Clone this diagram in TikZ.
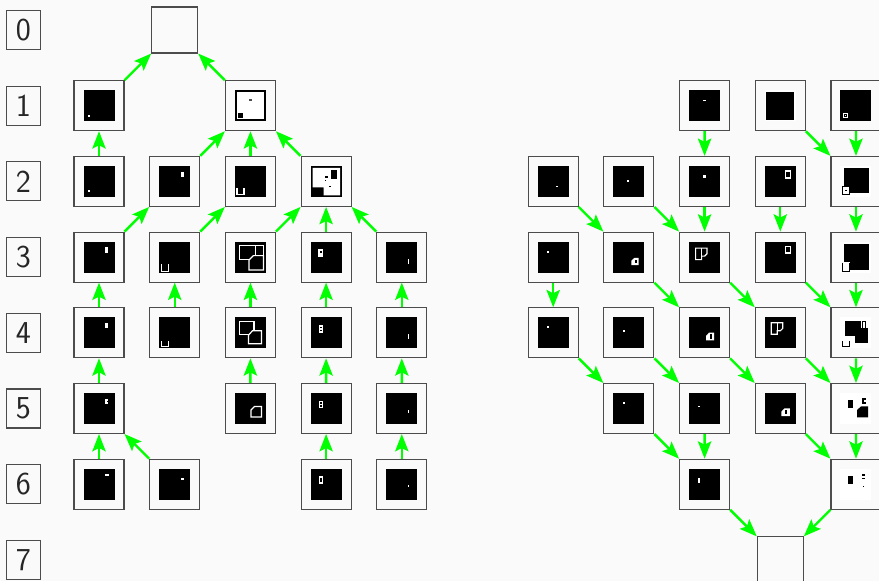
\documentclass[tikz,border=0pt]{standalone}
\usepackage{xcolor}
\usepackage{tikz}
\usetikzlibrary{arrows.meta, positioning}
\definecolor{paper}{HTML}{FAFAFA}
\tikzset{
    base/.style={draw=black!70, line width=0.8pt, inner sep=0pt},
    cell/.style={base, rectangle, fill=paper, minimum size=1.321cm},
    hollow/.style={base, rectangle, fill=paper, minimum size=1.215cm},
    tag/.style={base, rectangle, fill=paper, minimum width=0.898cm, minimum height=1.03cm, font=\sffamily\fontsize{24}{28}\selectfont, text=black!85},
    link/.style={draw=green, line width=1.8pt, -{Stealth[length=13pt, width=10pt, inset=2.5pt]}},
    wire/.style={draw=white, line width=0.9pt},
    ink/.style={draw=black, line width=0.75pt}
}
\newcommand{\cellart}[3]{%
  \begin{scope}[shift={(#1.center)}, x=0.02642cm, y=-0.02642cm, shift={(-15.5,-15.5)}]
    \fill [#2] (0,0) rectangle (31,31);
    #3
  \end{scope}}

\begin{document}
\begin{tikzpicture}[node distance=2cm and 2cm, on grid]
    \useasboundingbox [fill=paper] (-2.616,-14.557) rectangle (20.608,0.793);

    % row numbers
    \node [hollow] (Top) at (2,0) {};
    \node [tag, left=4cm of Top] (Row0) {0};
    \node [tag, below=of Row0] (Row1) {1};
    \node [tag, below=of Row1] (Row2) {2};
    \node [tag, below=of Row2] (Row3) {3};
    \node [tag, below=of Row3] (Row4) {4};
    \node [tag, below=of Row4] (Row5) {5};
    \node [tag, below=of Row5] (Row6) {6};
    \node [tag, below=of Row6] (Row7) {7};

    % row 1
    \node [cell, below left=of Top] (r1c0) {};
    \node [cell, below right=of Top] (r1c2) {};
    \node [cell, right=12cm of r1c2] (r1c8) {};
    \node [cell, right=of r1c8] (r1c9) {};
    \node [cell, right=of r1c9] (r1c10) {};
    % row 2
    \node [cell, below=of r1c0] (r2c0) {};
    \node [cell, right=of r2c0] (r2c1) {};
    \node [cell, right=of r2c1] (r2c2) {};
    \node [cell, right=of r2c2] (r2c3) {};
    \node [cell, right=6cm of r2c3] (r2c6) {};
    \node [cell, right=of r2c6] (r2c7) {};
    \node [cell, right=of r2c7] (r2c8) {};
    \node [cell, right=of r2c8] (r2c9) {};
    \node [cell, right=of r2c9] (r2c10) {};
    % row 3
    \node [cell, below=of r2c0] (r3c0) {};
    \node [cell, right=of r3c0] (r3c1) {};
    \node [cell, right=of r3c1] (r3c2) {};
    \node [cell, right=of r3c2] (r3c3) {};
    \node [cell, right=of r3c3] (r3c4) {};
    \node [cell, right=4cm of r3c4] (r3c6) {};
    \node [cell, right=of r3c6] (r3c7) {};
    \node [cell, right=of r3c7] (r3c8) {};
    \node [cell, right=of r3c8] (r3c9) {};
    \node [cell, right=of r3c9] (r3c10) {};
    % row 4
    \node [cell, below=of r3c0] (r4c0) {};
    \node [cell, right=of r4c0] (r4c1) {};
    \node [cell, right=of r4c1] (r4c2) {};
    \node [cell, right=of r4c2] (r4c3) {};
    \node [cell, right=of r4c3] (r4c4) {};
    \node [cell, right=4cm of r4c4] (r4c6) {};
    \node [cell, right=of r4c6] (r4c7) {};
    \node [cell, right=of r4c7] (r4c8) {};
    \node [cell, right=of r4c8] (r4c9) {};
    \node [cell, right=of r4c9] (r4c10) {};
    % row 5
    \node [cell, below=of r4c0] (r5c0) {};
    \node [cell, right=4cm of r5c0] (r5c2) {};
    \node [cell, right=of r5c2] (r5c3) {};
    \node [cell, right=of r5c3] (r5c4) {};
    \node [cell, right=6cm of r5c4] (r5c7) {};
    \node [cell, right=of r5c7] (r5c8) {};
    \node [cell, right=of r5c8] (r5c9) {};
    \node [cell, right=of r5c9] (r5c10) {};
    % row 6
    \node [cell, below=of r5c0] (r6c0) {};
    \node [cell, right=of r6c0] (r6c1) {};
    \node [cell, right=4cm of r6c1] (r6c3) {};
    \node [cell, right=of r6c3] (r6c4) {};
    \node [cell, right=8cm of r6c4] (r6c8) {};
    \node [cell, right=4cm of r6c8] (r6c10) {};
    % row 7
    \node [hollow, below right=of r6c8] (Bottom) {};

    % pictures, left part
    \cellart{r1c0}{black}{\fill [white] (4,24.5) rectangle (6,26.5);}
    \cellart{r1c2}{white}{\draw [black, line width=1.4pt] (1,1) rectangle (30,30);
        \fill [black] (3,23) rectangle (8,28); \fill [black!70] (14,9) rectangle (17,10.3);}
    \cellart{r2c0}{black}{\fill [white] (4.5,24.5) rectangle (6,26);}
    \cellart{r2c1}{black}{\fill [white] (21.3,5.7) rectangle (24.3,10.7);}
    \cellart{r2c2}{black}{\draw [wire] (2,22) -- (2,28.5) -- (9,28.5) -- (9,22);}
    \cellart{r2c3}{black}{\fill [white] (2,2) -- (29.5,2) -- (29.5,29.5) -- (13,29.5) -- (13,21.5) -- (2,21.5) -- cycle;
        \fill [black] (20,4.3) rectangle (26,12.7); \fill [black] (14,9.7) rectangle (17,12);
        \fill [black] (14,13.7) rectangle (15.3,15); \fill [black] (18.3,20) rectangle (20,21.3);}
    \cellart{r3c0}{black}{\fill [white] (21.7,5.7) rectangle (24.7,11);}
    \cellart{r3c1}{black}{\draw [wire] (2,22.5) -- (2,29.5) -- (9,29.5) -- (9,22.5);}
    \cellart{r3c2}{black}{\draw [wire] (4.3,3.8) rectangle (20.5,17.5); \draw [wire] (20.5,3.8) -- (28.5,3.8) -- (28.5,14);
        \filldraw [fill=black, wire] (14,28.3) -- (14,18.5) -- (18.5,14) -- (28.5,14) -- (28.5,28.3) -- cycle;}
    \cellart{r3c3}{black}{\fill [white] (7.3,7.3) rectangle (12.7,15.7); \fill [black] (9,9) rectangle (11,11);}
    \cellart{r3c4}{black}{\fill [white] (21.5,17.5) rectangle (23,22.5);}
    \cellart{r4c0}{black}{\fill [white] (21.7,5.3) rectangle (24.7,10.7);}
    \cellart{r4c1}{black}{\draw [wire] (2,24) -- (2,29) -- (9,29) -- (9,24);}
    \cellart{r4c2}{black}{\draw [wire] (4.5,4.5) rectangle (19,17.5);
        \filldraw [fill=black, wire] (13.5,26.5) -- (13.5,18) -- (17.5,13.5) -- (26.5,13.5) -- (26.5,26.5) -- cycle;}
    \cellart{r4c3}{black}{\fill [white] (8,8) rectangle (12.3,15.3);
        \fill [black] (9.3,9.3) rectangle (11,11); \fill [black] (9.3,12.3) rectangle (11,14);}
    \cellart{r4c4}{black}{\fill [white] (21.5,16.3) rectangle (23,22);}
    \cellart{r5c0}{black}{\fill [white] (21.7,6) rectangle (24.7,11); \fill [black] (23.2,7.7) rectangle (24.7,9.3);}
    \cellart{r5c2}{black}{\draw [wire] (16,24) -- (16,17) -- (19.5,13.5) -- (26.5,13.5) -- (26.5,24) -- cycle;}
    \cellart{r5c3}{black}{\fill [white] (8,8) rectangle (12.3,15.3);
        \fill [black] (9.3,9.3) rectangle (11,11); \fill [black] (9.3,12.3) rectangle (11,14);}
    \cellart{r5c4}{black}{\fill [white] (21.5,17) rectangle (23,19.5);}
    \cellart{r6c0}{black}{\fill [white] (21.7,5.7) rectangle (25,7.3);}
    \cellart{r6c1}{black}{\fill [white] (21.7,9.3) rectangle (25,11);}
    \cellart{r6c3}{black}{\fill [white] (8,7.7) rectangle (12.3,15); \fill [black] (9.3,9) rectangle (11,13.7);}
    \cellart{r6c4}{black}{\fill [white] (21.5,16.7) rectangle (23,18.3);}

    % pictures, right part
    \cellart{r1c8}{black}{\fill [white] (14,9.3) rectangle (17,10.7);}
    \cellart{r1c9}{white}{\fill [black] (1.5,1.5) rectangle (29.5,29.5);}
    \cellart{r1c10}{black}{\fill [white] (3,22.7) rectangle (8,27.7); \fill [black] (4,23.7) rectangle (7,26.7);
        \fill [white] (5,24.7) rectangle (6,25.7);}
    \cellart{r2c6}{black}{\fill [white] (18.7,19.7) rectangle (20.3,21.3);}
    \cellart{r2c7}{black}{\fill [white] (14,14) rectangle (15.6,15.6);}
    \cellart{r2c8}{black}{\fill [white] (14,9) rectangle (17,12);}
    \cellart{r2c9}{black}{\fill [white] (20,4.3) rectangle (26.3,12.7); \fill [black] (21.5,5.8) rectangle (24.8,11.2);}
    \cellart{r2c10}{white}{\fill [black] (3.3,2.3) rectangle (28.3,27.3);
        \filldraw [fill=white, ink] (1.5,20.5) rectangle (9.5,28.5); \fill [black] (5,24) rectangle (6.5,25.5);}
    \cellart{r3c6}{black}{\fill [white] (9.3,9.3) rectangle (11,11);}
    \cellart{r3c7}{black}{\fill [white] (18,23.5) -- (18,19) -- (21,16.3) -- (25.3,16.3) -- (25.3,23.5) -- cycle;
        \fill [black] (21.5,18) rectangle (23.5,21.8);}
    \cellart{r3c8}{black}{\draw [wire] (6.5,6.5) -- (18,6.5) -- (18,12) -- (15.5,14.5) -- (12.5,14.5) -- (12.5,18) -- (6.5,18) -- cycle;
        \draw [wire] (12.5,6.5) -- (12.5,14.5);}
    \cellart{r3c9}{black}{\fill [white] (20,4) rectangle (26.3,12.3); \fill [black] (21.5,5.5) rectangle (24.8,10.8);}
    \cellart{r3c10}{white}{\fill [black] (3.3,2.3) rectangle (28.7,28.3); \fill [white] (1,20) rectangle (9.5,30.5);
        \draw [ink] (2,21) -- (2,29.5) -- (9,29.5) -- (9,21);}
    \cellart{r4c6}{black}{\fill [white] (9.3,9) rectangle (11,10.7);}
    \cellart{r4c7}{black}{\fill [white] (9.7,12.7) rectangle (11.3,14.3);}
    \cellart{r4c8}{black}{\fill [white] (17,23) -- (17,18.5) -- (20,15.3) -- (25,15.3) -- (25,23) -- cycle;
        \fill [black] (20.5,17) rectangle (22.5,21.3);}
    \cellart{r4c9}{black}{\draw [wire] (6.5,5.5) -- (18,5.5) -- (18,11) -- (15.5,13.5) -- (12.5,13.5) -- (12.5,17) -- (6.5,17) -- cycle;
        \draw [wire] (12.5,5.5) -- (12.5,13.5);}
    \cellart{r4c10}{white}{\fill [black] (4.3,3.3) rectangle (21,18.7); \fill [black] (15,10.7) rectangle (27.7,26);
        \filldraw [fill=white, ink] (22,4.5) rectangle (25.5,11);
        \draw [ink] (2,24) -- (2,29) -- (9,29) -- (9,24);}
    \cellart{r5c7}{black}{\fill [white] (9.7,9.3) rectangle (11.3,11);}
    \cellart{r5c8}{black}{\fill [white] (9.3,12.7) rectangle (11,14.3);}
    \cellart{r5c9}{black}{\fill [white] (16.7,23) -- (16.7,18.5) -- (19.7,15.3) -- (25,15.3) -- (25,23) -- cycle;
        \fill [black] (20.2,17) rectangle (22.2,21.3);}
    \cellart{r5c10}{white}{\fill [black] (7.7,6.7) rectangle (12.3,15);
        \fill [black] (21.7,5) rectangle (25.7,10.7); \fill [white] (23.3,6.8) rectangle (25.7,8.8);
        \fill [black] (16.7,24.3) -- (16.7,17) -- (20.5,13.3) -- (27.7,13.3) -- (27.7,24.3) -- cycle;}
    \cellart{r6c8}{black}{\fill [white] (9.3,9) rectangle (11,14);}
    \cellart{r6c10}{white}{\fill [black] (7.7,7.3) rectangle (12.3,15.7);
        \fill [black] (21.7,5.7) rectangle (25,7); \fill [black] (21.7,9.3) rectangle (25,10.6);
        \fill [black] (22.3,17) rectangle (24,18.3);}

    % links, left part
    \draw [link] (r1c0) -- (Top);
    \draw [link] (r1c2) -- (Top);
    \draw [link] (r2c0) -- (r1c0);
    \draw [link] (r2c1) -- (r1c2);
    \draw [link] (r2c2) -- (r1c2);
    \draw [link] (r2c3) -- (r1c2);
    \draw [link] (r3c0) -- (r2c1);
    \draw [link] (r3c1) -- (r2c2);
    \draw [link] (r3c2) -- (r2c3);
    \draw [link] (r3c3) -- (r2c3);
    \draw [link] (r3c4) -- (r2c3);
    \draw [link] (r4c0) -- (r3c0);
    \draw [link] (r4c1) -- (r3c1);
    \draw [link] (r4c2) -- (r3c2);
    \draw [link] (r4c3) -- (r3c3);
    \draw [link] (r4c4) -- (r3c4);
    \draw [link] (r5c0) -- (r4c0);
    \draw [link] (r5c2) -- (r4c2);
    \draw [link] (r5c3) -- (r4c3);
    \draw [link] (r5c4) -- (r4c4);
    \draw [link] (r6c0) -- (r5c0);
    \draw [link] (r6c1) -- (r5c0);
    \draw [link] (r6c3) -- (r5c3);
    \draw [link] (r6c4) -- (r5c4);

    % links, right part
    \draw [link] (r1c8) -- (r2c8);
    \draw [link] (r1c9) -- (r2c10);
    \draw [link] (r1c10) -- (r2c10);
    \draw [link] (r2c6) -- (r3c7);
    \draw [link] (r2c7) -- (r3c8);
    \draw [link] (r2c8) -- (r3c8);
    \draw [link] (r2c9) -- (r3c9);
    \draw [link] (r2c10) -- (r3c10);
    \draw [link] (r3c6) -- (r4c6);
    \draw [link] (r3c7) -- (r4c8);
    \draw [link] (r3c8) -- (r4c9);
    \draw [link] (r3c9) -- (r4c10);
    \draw [link] (r3c10) -- (r4c10);
    \draw [link] (r4c6) -- (r5c7);
    \draw [link] (r4c7) -- (r5c8);
    \draw [link] (r4c8) -- (r5c9);
    \draw [link] (r4c9) -- (r5c10);
    \draw [link] (r4c10) -- (r5c10);
    \draw [link] (r5c7) -- (r6c8);
    \draw [link] (r5c8) -- (r6c8);
    \draw [link] (r5c9) -- (r6c10);
    \draw [link] (r5c10) -- (r6c10);
    \draw [link] (r6c8) -- (Bottom);
    \draw [link] (r6c10) -- (Bottom);
\end{tikzpicture}
\end{document}
